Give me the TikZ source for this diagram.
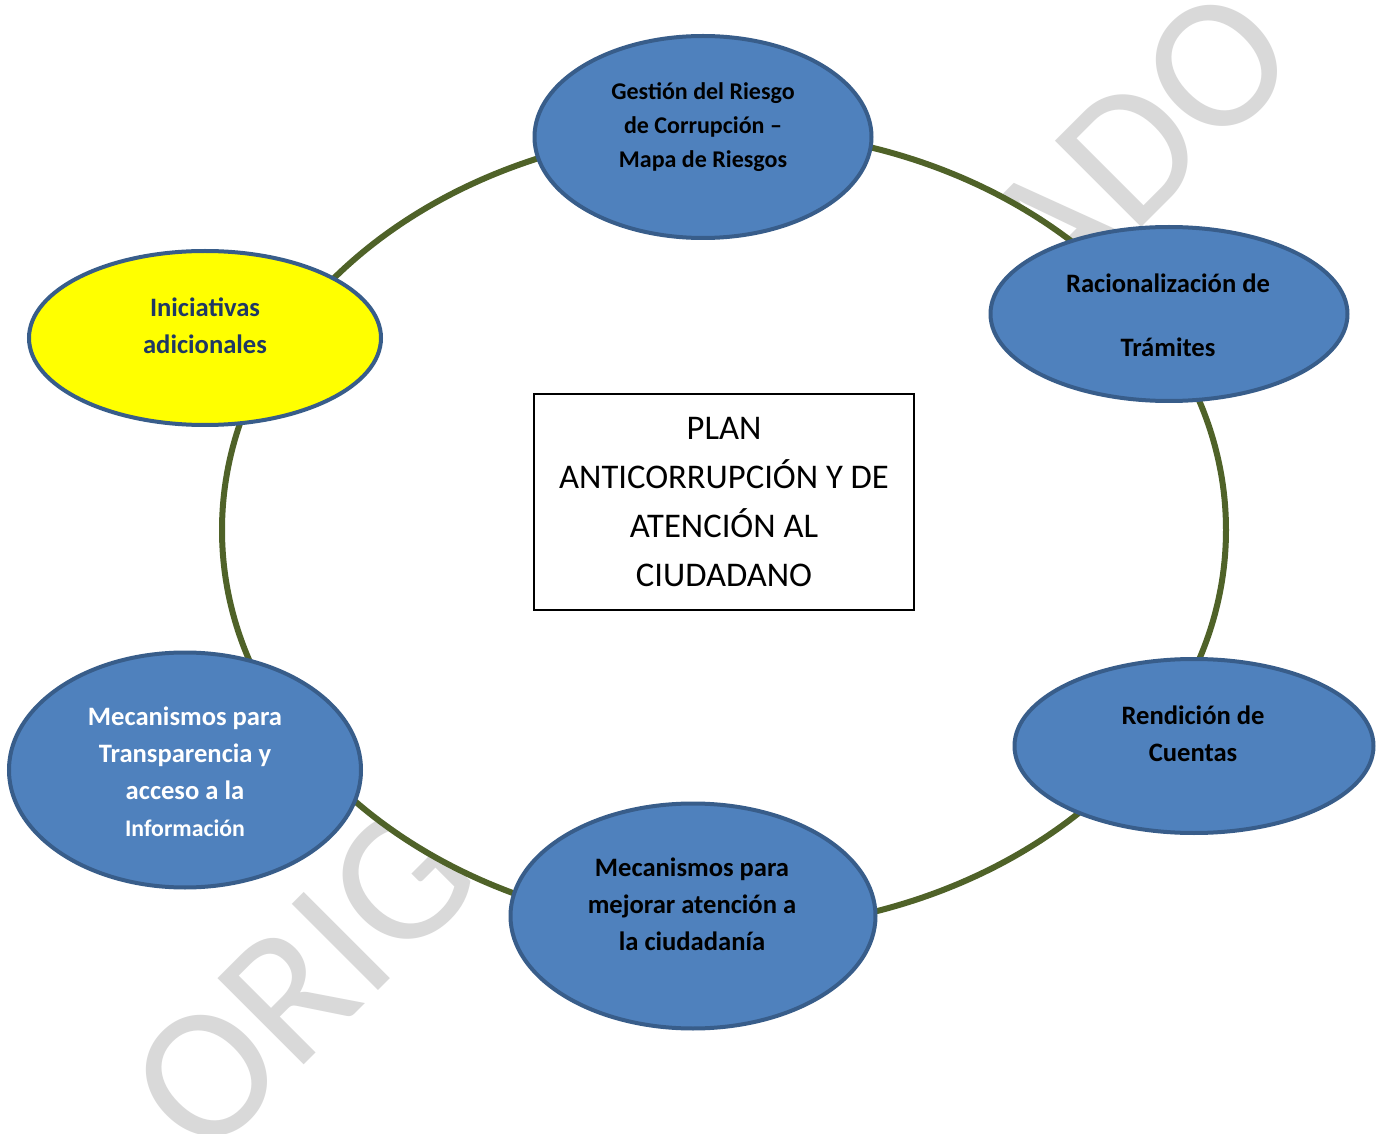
\documentclass[tikz,border=0pt]{standalone}
\usepackage{fontspec}
\setmainfont{Carlito}
\usetikzlibrary{shapes.geometric}
\definecolor{ringgreen}{RGB}{79,98,40}
\definecolor{fillblue}{RGB}{79,129,189}
\definecolor{edgeblue}{RGB}{56,93,138}
\definecolor{navytext}{RGB}{31,56,100}
\definecolor{wmgray}{RGB}{217,217,217}
\definecolor{pureyellow}{RGB}{255,255,0}
\tikzset{
  bubble/.style={ellipse, draw=edgeblue, line width=2pt, fill=fillblue, inner sep=0pt},
  yellowbubble/.style={bubble, fill=pureyellow},
  lbl/.style={align=center, font=\bfseries\fontsize{13.3pt}{18.5pt}\selectfont, inner sep=0pt},
  ring/.style={draw=ringgreen, line width=3pt, fill=white},
  wm/.style={text=wmgray, rotate=45, font=\fontsize{95pt}{95pt}\selectfont, inner sep=0pt},
  planbox/.style={draw=black, line width=1pt, fill=white, minimum width=190pt, minimum height=108pt, align=center, font=\fontsize{17.3pt}{24.4pt}\selectfont}
}
\begin{document}
\begin{tikzpicture}[x=0.5pt,y=-0.5pt]
\useasboundingbox[fill=white] (0,0) rectangle (1378,1134);
% watermark
\node[wm] (wmark) at (712,571) {ORIGINAL FIRMADO};
% ring
\draw[ring] (724,530) ellipse [x radius=502, y radius=400];
% bubbles
\node[bubble, minimum width=168.5pt, minimum height=101pt] (gest) at (703,137) {};
\node[bubble, minimum width=178.5pt, minimum height=87pt] (rac) at (1169,314) {};
\node[bubble, minimum width=179.5pt, minimum height=87pt] (ren) at (1194,746) {};
\node[bubble, minimum width=182.5pt, minimum height=112.5pt] (mej) at (693,916) {};
\node[bubble, minimum width=176pt, minimum height=117.5pt] (tra) at (185,770) {};
\node[yellowbubble, minimum width=176pt, minimum height=87pt] (ini) at (205,338) {};
% labels
\node[lbl, font=\bfseries\fontsize{12pt}{17pt}\selectfont] (gestT) at (703,127) {Gestión del Riesgo\\de Corrupción –\\Mapa de Riesgos};
\node[lbl, font=\bfseries\fontsize{13.3pt}{32pt}\selectfont] (racT) at (1168,315) {Racionalización de\\Trámites};
\node[lbl] (renT) at (1193,734) {Rendición de\\Cuentas};
\node[lbl] (mejT) at (692,904) {Mecanismos para\\mejorar atención a\\la ciudadanía};
\node[lbl, text=white] (traT) at (185,772) {Mecanismos para\\Transparencia y\\acceso a la\\{\fontsize{11.9pt}{18.5pt}\selectfont Información}};
\node[lbl, text=navytext] (iniT) at (205,326) {Iniciativas\\adicionales};
% center box
\node[planbox] (plan) at (724,502) {PLAN\\ANTICORRUPCIÓN Y DE\\ATENCIÓN AL\\CIUDADANO};
\end{tikzpicture}
\end{document}
